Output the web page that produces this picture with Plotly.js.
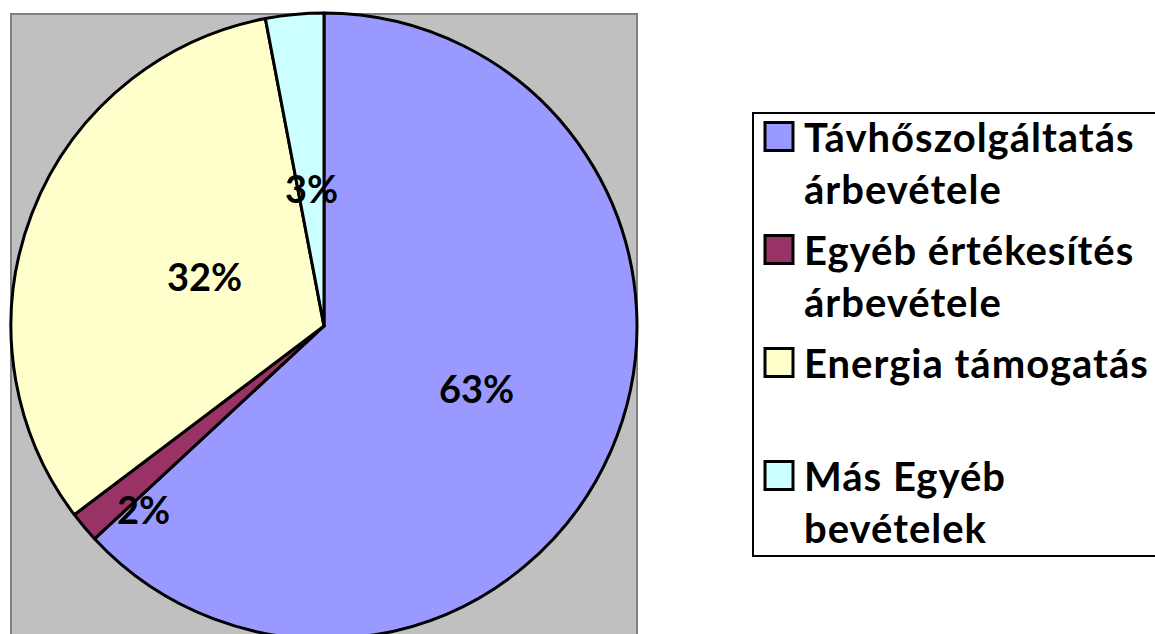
<!DOCTYPE html>
<html>
<head>
<meta charset="utf-8">
<script src="https://cdn.plot.ly/plotly-3.0.1.min.js"></script>
<style>
html,body{margin:0;padding:0;overflow:hidden;background:#fff;}
#chart{width:1155px;height:660px;}
</style>
</head>
<body>
<div id="chart"></div>
<script>
var categories = ["Távhőszolgáltatás<br>árbevétele", "Egyéb értékesítés<br>árbevétele", "Energia támogatás<br> ", "Más Egyéb<br>bevételek"];
var values = [63.1, 1.6, 32.3, 3.0];
var colors = ["#9999FF", "#993366", "#FFFFCC", "#CCFFFF"];
var labelRadius = [0.53, 0.83, 0.41, 0.43];
var labelAngleShift = [0, -6, 0, 0];

var W = 1155, H = 660;
var cx = 324, cy = 326, R = 313;

var total = values.reduce(function(a,b){return a+b;},0);
var annotations = [];
var cum = 0;
values.forEach(function(v,i){
  var mid = ((cum + v/2)/total * 360 + labelAngleShift[i]) * Math.PI/180;
  cum += v;
  var px = cx + R*labelRadius[i]*Math.sin(mid);
  var py = cy - R*labelRadius[i]*Math.cos(mid);
  annotations.push({
    x: px/W, y: (H-py)/H, xref:'paper', yref:'paper', showarrow:false,
    text: Math.round(v/total*100) + '%',
    font:{family:'Lato, "Open Sans", sans-serif', size:38, color:'#000', weight:700},
    xanchor:'center', yanchor:'middle', yshift:4
  });
});

var trace = {
  type:'pie',
  labels: categories,
  values: values,
  sort:false,
  direction:'clockwise',
  rotation:0,
  textinfo:'none',
  hoverinfo:'label+percent',
  marker:{colors:colors, line:{color:'#000', width:3}},
  domain:{x:[(cx-R)/W,(cx+R)/W], y:[(H-cy-R)/H,(H-cy+R)/H]}
};

var layout = {
  width:W, height:H,
  margin:{l:0,r:0,t:0,b:0},
  paper_bgcolor:'#fff',
  showlegend:true,
  legend:{
    x:752/W, y:(H-112)/H, xanchor:'left', yanchor:'top',
    bgcolor:'#fff', bordercolor:'#000', borderwidth:2,
    font:{family:'Lato, "Open Sans", sans-serif', size:40, color:'#000', weight:700},
    valign:'top', traceorder:'normal', itemwidth:40
  },
  shapes:[{
    type:'rect', xref:'paper', yref:'paper', layer:'below',
    x0:11/W, x1:637/W, y0:-0.05, y1:(H-14)/H,
    fillcolor:'#C0C0C0', line:{color:'#808080', width:2}
  }],
  annotations: annotations
};

function parseT(g){
  var t = g.getAttribute('transform') || '';
  var m = /translate\(\s*([-\d.e]+)[ ,]+([-\d.e]+)/.exec(t);
  return m ? {x:parseFloat(m[1]), y:parseFloat(m[2])} : {x:0,y:0};
}

Plotly.newPlot('chart',[trace],layout,{displayModeBar:false,staticPlot:true}).then(function(){
  document.querySelectorAll('.legendpoints path').forEach(function(p){
    p.setAttribute('d','M14,14H-14V-14H14Z');
  });
  document.querySelectorAll('.legend .legendtext').forEach(function(t){
    t.style.letterSpacing = '1px';
  });
  var items = document.querySelectorAll('.legend .traces');
  if(items.length){
    var b = parseT(items[0]);
    items.forEach(function(g,i){
      var t = parseT(g);
      g.setAttribute('transform','translate('+t.x+','+(b.y - 10 + i*113)+')');
    });
  }
  var bg = document.querySelector('.legend .bg');
  if(bg){ bg.setAttribute('height', 443); bg.setAttribute('width', 460); }
  document.querySelectorAll('clipPath[id^="legend"] rect').forEach(function(r){
    r.setAttribute('height', 443); r.setAttribute('width', 460);
  });
});
</script>
</body>
</html>
